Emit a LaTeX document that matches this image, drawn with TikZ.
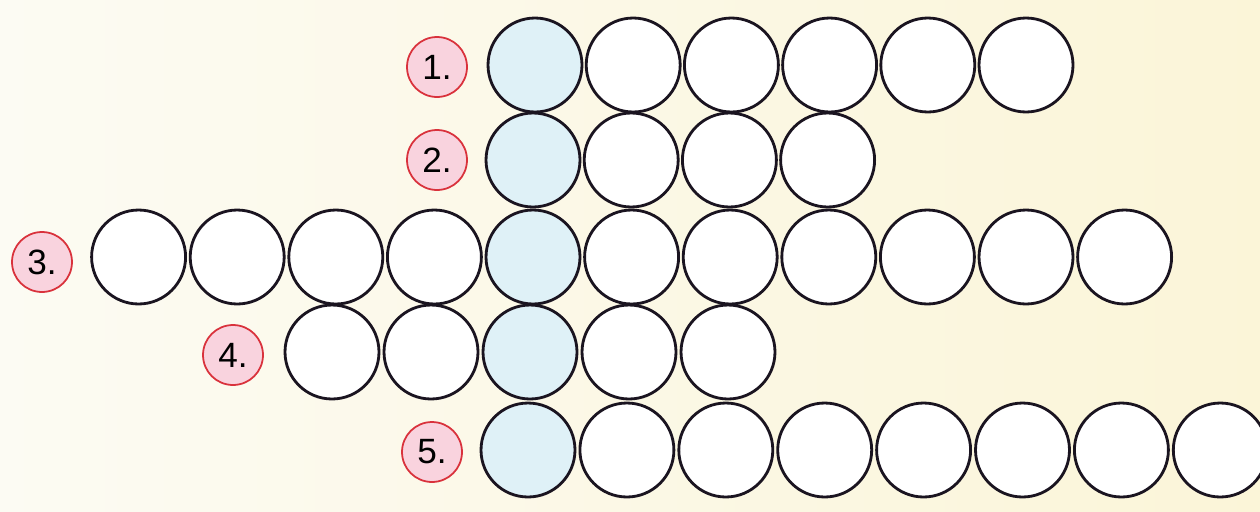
\documentclass[tikz,border=0pt]{standalone}
\usepackage{fontspec}
\setmainfont{Liberation Sans}
\definecolor{paper}{HTML}{FCFBF3}
\definecolor{paperright}{HTML}{FBF5D8}
\definecolor{keyblue}{HTML}{DFF1F7}
\definecolor{tagpink}{HTML}{F9D3DE}
\definecolor{tagred}{HTML}{D9323C}
\definecolor{ink}{HTML}{1A1420}
\begin{document}
\begin{tikzpicture}[
        x=0.02cm, y=-0.02cm,
        cell/.style={draw=ink, circle, line width=1.6pt, fill=white, minimum size=1.88cm, inner sep=0pt},
        keycell/.style={cell, fill=keyblue},
        tag/.style={draw=tagred, circle, line width=1pt, fill=tagpink, minimum size=1.2cm, inner sep=0pt, font=\fontsize{20}{21}\selectfont}
    ]
        \fill[left color=paper, right color=paperright] (0,0) rectangle (1260,511);
        \useasboundingbox (0,0) rectangle (1260,511);

        % numbered tags
        \node[tag] (t1) at (437,67) {1.};
        \node[tag] (t2) at (437,160) {2.};
        \node[tag] (t3) at (42,262) {3.};
        \node[tag] (t4) at (233,355) {4.};
        \node[tag] (t5) at (432,452) {5.};

        % row 1
        \node[keycell] (r1c0) at (535,65) {};
        \foreach \i in {1,...,5}
            \node[cell] (r1c\i) at (535+98.2*\i,65) {};
        % row 2
        \node[keycell] (r2c0) at (533,160) {};
        \foreach \i in {1,...,3}
            \node[cell] (r2c\i) at (533+98.2*\i,160) {};
        % row 3
        \foreach \i in {-4,...,-1}
            \node[cell] (r3c\i) at (533+98.6*\i,257) {};
        \node[keycell] (r3c0) at (533,257) {};
        \foreach \i in {1,...,6}
            \node[cell] (r3c\i) at (533+98.6*\i,257) {};
        % row 4
        \foreach \i in {-2,-1}
            \node[cell] (r4c\i) at (530+99*\i,352) {};
        \node[keycell] (r4c0) at (530,352) {};
        \foreach \i in {1,2}
            \node[cell] (r4c\i) at (530+99*\i,352) {};
        % row 5
        \node[keycell] (r5c0) at (528,450) {};
        \foreach \i in {1,...,7}
            \node[cell] (r5c\i) at (528+98.9*\i,450) {};
    \end{tikzpicture}
\end{document}
